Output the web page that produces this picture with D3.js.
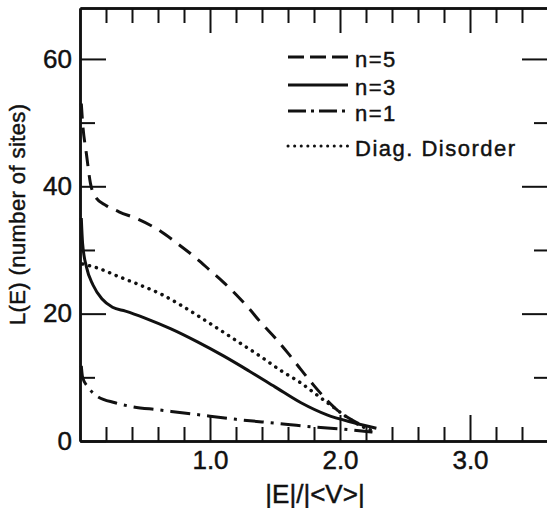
<!DOCTYPE html>
<html>
<head>
<meta charset="utf-8">
<script src="https://cdn.jsdelivr.net/npm/d3@7"></script>
<style>
  body { margin: 0; background: #fff; }
  text { font-family: "Liberation Sans", Arial, sans-serif; fill: #111; stroke: #111; stroke-width: 0.45; }
</style>
</head>
<body>
<div id="chart"></div>
<script>
const width = 547;
const height = 508;
const margin = { top: 8, right: -1, bottom: 67, left: 80 };

// data: [|E|/|<V>|, L(E)]
const n5 = [[0.01, 53], [0.02, 50], [0.05, 45], [0.08, 40.5], [0.12, 38.3], [0.2, 37], [0.3, 36], [0.45, 34.8],
  [0.6, 33.2], [0.75, 31], [0.9, 28.6], [1.0, 26.8], [1.1, 25], [1.2, 23], [1.3, 20.8], [1.4, 18.4],
  [1.5, 16.2], [1.6, 13.8], [1.7, 11.2], [1.8, 8.7], [1.9, 6.4], [2.0, 4.5], [2.1, 3.2], [2.2, 2.2]];
const n3 = [[0.01, 35], [0.02, 31], [0.05, 27.3], [0.1, 24.5], [0.17, 22.3], [0.25, 21], [0.35, 20.4],
  [0.5, 19.3], [0.7, 17.6], [0.9, 15.6], [1.1, 13.4], [1.3, 11], [1.5, 8.5], [1.7, 6], [1.9, 4.1],
  [2.1, 2.9], [2.28, 2.0]];
const n1 = [[0.01, 11.8], [0.02, 10], [0.06, 8.5], [0.12, 7.2], [0.27, 6], [0.4, 5.4], [0.6, 4.9],
  [0.8, 4.4], [1.0, 3.9], [1.2, 3.4], [1.4, 3.0], [1.6, 2.6], [1.8, 2.2], [2.0, 1.9], [2.25, 1.4]];
const diag = [[0.02, 27.8], [0.13, 27.2], [0.3, 25.8], [0.46, 24.5], [0.62, 23.1], [0.77, 21.4],
  [0.92, 19.5], [1.08, 17.4], [1.23, 15.4], [1.38, 13.4], [1.55, 11], [1.7, 9.1], [1.85, 6.8],
  [1.95, 5.3], [2.05, 3.8], [2.15, 2.5], [2.25, 1.6]];

const seriesNames = ["n=5", "n=3", "n=1", "Diag. Disorder"];
const seriesData = [n5, n3, n1, diag];

const xMajorTicks = [1, 2, 3];
const xMinorTicks = [0.2, 0.4, 0.6, 0.8, 1.2, 1.4, 1.6, 1.8, 2.2, 2.4, 2.6, 2.8, 3.2, 3.4];
const yMajorTicks = [0, 20, 40, 60];
const yMinorTicks = [10, 30, 50];

const dashes = ["15,9", null, "20,7,3,7", "0.1,7"];
const legendY = [57, 85, 111, 146];

const svg = d3.select("#chart").append("svg")
  .attr("width", width)
  .attr("height", height);

const x = d3.scaleLinear().domain([0, 3.6]).range([margin.left, width - margin.right]);
const y = d3.scaleLinear().domain([0, 68]).range([height - margin.bottom, margin.top]);

function styleAxis(g) {
  g.select(".domain").attr("stroke", "#111").attr("stroke-width", 2.5);
  g.selectAll(".tick line").attr("stroke", "#111").attr("stroke-width", 2);
  g.selectAll("text").attr("font-size", 26).attr("font-family", "Liberation Sans, Arial, sans-serif").attr("fill", "#111");
}

// bottom
svg.append("g")
  .attr("transform", `translate(0,${y(0)})`)
  .call(d3.axisBottom(x).tickValues(xMinorTicks).tickSize(-14).tickSizeOuter(0).tickFormat(""))
  .call(styleAxis);
svg.append("g")
  .attr("transform", `translate(0,${y(0)})`)
  .call(d3.axisBottom(x).tickValues(xMajorTicks).tickSize(-26).tickSizeOuter(0).tickPadding(10).tickFormat(d3.format(".1f")))
  .call(styleAxis);

// top
svg.append("g")
  .attr("transform", `translate(0,${y(68)})`)
  .call(d3.axisTop(x).tickValues(xMinorTicks).tickSize(-15).tickSizeOuter(0).tickFormat(""))
  .call(styleAxis);
svg.append("g")
  .attr("transform", `translate(0,${y(68)})`)
  .call(d3.axisTop(x).tickValues(xMajorTicks).tickSize(-25).tickSizeOuter(0).tickFormat(""))
  .call(styleAxis);

// left
svg.append("g")
  .attr("transform", `translate(${x(0)},0)`)
  .call(d3.axisLeft(y).tickValues(yMinorTicks).tickSize(-15).tickSizeOuter(0).tickFormat(""))
  .call(styleAxis);
svg.append("g")
  .attr("transform", `translate(${x(0)},0)`)
  .call(d3.axisLeft(y).tickValues(yMajorTicks).tickSize(-26).tickSizeOuter(0).tickPadding(8).tickFormat(d3.format("d")))
  .call(styleAxis);

// right
svg.append("g")
  .attr("transform", `translate(${x(3.6)},0)`)
  .call(d3.axisRight(y).tickValues(yMinorTicks).tickSize(-14).tickSizeOuter(0).tickFormat(""))
  .call(styleAxis);
svg.append("g")
  .attr("transform", `translate(${x(3.6)},0)`)
  .call(d3.axisRight(y).tickValues(yMajorTicks.filter(d => d > 0)).tickSize(-26).tickSizeOuter(0).tickFormat(""))
  .call(styleAxis);

// axis titles
svg.append("text")
  .attr("x", 315)
  .attr("y", 503)
  .attr("text-anchor", "middle")
  .attr("font-size", 26)
  .text("|E|/|<V>|");

svg.append("text")
  .attr("transform", `translate(25,${y(35.6)}) rotate(-90)`)
  .attr("text-anchor", "middle")
  .attr("font-size", 22)
  .attr("letter-spacing", 0.4)
  .text("L(E) (number of sites)");

// curves
const line = d3.line()
  .x(d => x(d[0]))
  .y(d => y(d[1]))
  .curve(d3.curveMonotoneX);

seriesData.forEach((s, i) => {
  svg.append("path")
    .datum(s)
    .attr("fill", "none")
    .attr("stroke", "#111")
    .attr("stroke-width", i === 3 ? 3.5 : 3)
    .attr("stroke-linecap", i === 3 ? "round" : "butt")
    .attr("stroke-dasharray", dashes[i])
    .attr("d", line);
});

// legend
const legend = svg.append("g");
seriesNames.forEach((name, i) => {
  legend.append("line")
    .attr("x1", 288).attr("x2", 348)
    .attr("y1", legendY[i]).attr("y2", legendY[i])
    .attr("stroke", "#111")
    .attr("stroke-width", 3)
    .attr("stroke-linecap", i === 3 ? "round" : "butt")
    .attr("stroke-dasharray", i === 0 ? "16,6" : i === 2 ? "18,5,3,5" : i === 3 ? "0.1,6.5" : null);
  legend.append("text")
    .attr("x", 355)
    .attr("y", legendY[i] + 10)
    .attr("font-size", 22)
    .attr("letter-spacing", 1.5)
    .text(name);
});
</script>
</body>
</html>
